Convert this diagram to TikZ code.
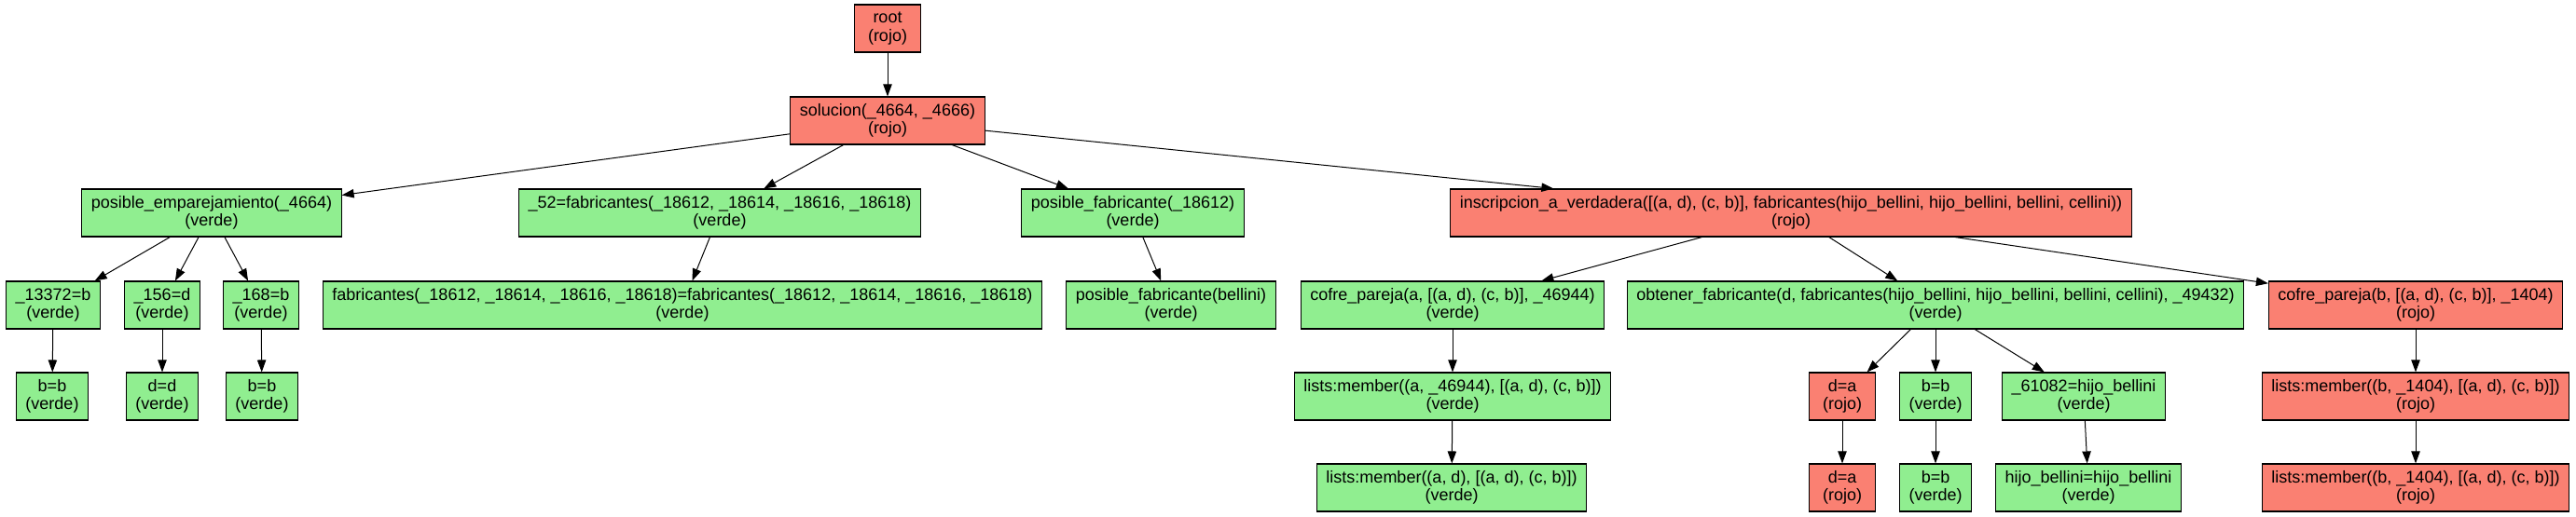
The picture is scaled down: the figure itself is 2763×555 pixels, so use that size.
\documentclass[tikz,border=0pt]{standalone}
\usepackage{fontspec}
\setmainfont{Liberation Sans}
\usepackage{tikz}
\usetikzlibrary{arrows.meta}
\definecolor{rojoFill}{RGB}{250,128,114}
\definecolor{verdeFill}{RGB}{144,238,144}

\begin{document}
\begin{tikzpicture}[
        x=0.75pt, y=-0.75pt,
        box/.style={draw=black, line width=0.8pt, rectangle,
          font=\fontsize{13.5}{14.6}\selectfont, inner xsep=7.5pt, inner ysep=2pt,
          minimum width=53.25pt, minimum height=38.25pt, align=center},
        rojo/.style={box, fill=rojoFill},
        verde/.style={box, fill=verdeFill},
        >={Triangle[length=9.75pt,width=7pt]},
        every path/.append style={line width=0.75pt}
      ]
        \useasboundingbox (0,0) rectangle (2763,555);
        % nivel 1 y 2
        \node[rojo] (root) at (952,30.5) {root\\(rojo)};
        \node[rojo] (sol) at (952,129.5) {solucion(\_4664, \_4666)\\(rojo)};
        % nivel 3
        \node[verde] (posemp) at (227,228.5) {posible\_emparejamiento(\_4664)\\(verde)};
        \node[verde] (fab52) at (772,228.5) {\_52=fabricantes(\_18612, \_18614, \_18616, \_18618)\\(verde)};
        \node[verde] (posfab) at (1215,228.5) {posible\_fabricante(\_18612)\\(verde)};
        \node[rojo] (inscr) at (1921,228.5) {inscripcion\_a\_verdadera([(a, d), (c, b)], fabricantes(hijo\_bellini, hijo\_bellini, bellini, cellini))\\(rojo)};
        % nivel 4
        \node[verde] (eqa) at (57,327.5) {\_13372=b\\(verde)};
        \node[verde] (eqb) at (174,327.5) {\_156=d\\(verde)};
        \node[verde] (eqc) at (280,327.5) {\_168=b\\(verde)};
        \node[verde] (fabeq) at (732,327.5) {fabricantes(\_18612, \_18614, \_18616, \_18618)=fabricantes(\_18612, \_18614, \_18616, \_18618)\\(verde)};
        \node[verde] (posfabb) at (1256,327.5) {posible\_fabricante(bellini)\\(verde)};
        \node[verde] (cofrea) at (1558,327.5) {cofre\_pareja(a, [(a, d), (c, b)], \_46944)\\(verde)};
        \node[verde] (obtfab) at (2076,327.5) {obtener\_fabricante(d, fabricantes(hijo\_bellini, hijo\_bellini, bellini, cellini), \_49432)\\(verde)};
        \node[rojo] (cofreb) at (2591,327.5) {cofre\_pareja(b, [(a, d), (c, b)], \_1404)\\(rojo)};
        % nivel 5
        \node[verde] (bba) at (56,425.5) {b=b\\(verde)};
        \node[verde] (dda) at (174,425.5) {d=d\\(verde)};
        \node[verde] (bbb) at (281,425.5) {b=b\\(verde)};
        \node[verde] (membera) at (1558,425.5) {lists:member((a, \_46944), [(a, d), (c, b)])\\(verde)};
        \node[rojo] (dab) at (1976,425.5) {d=a\\(rojo)};
        \node[verde] (bbc) at (2076,425.5) {b=b\\(verde)};
        \node[verde] (hijoa) at (2235,425.5) {\_61082=hijo\_bellini\\(verde)};
        \node[rojo] (memberb) at (2591,425.5) {lists:member((b, \_1404), [(a, d), (c, b)])\\(rojo)};
        % nivel 6
        \node[verde] (memberc) at (1557,523.5) {lists:member((a, d), [(a, d), (c, b)])\\(verde)};
        \node[rojo] (dac) at (1976,523.5) {d=a\\(rojo)};
        \node[verde] (bbd) at (2076,523.5) {b=b\\(verde)};
        \node[verde] (hijob) at (2240,523.5) {hijo\_bellini=hijo\_bellini\\(verde)};
        \node[rojo] (memberd) at (2591,523.5) {lists:member((b, \_1404), [(a, d), (c, b)])\\(rojo)};
        % aristas
        \draw[->] (root) -- (sol);
        \draw[->] (sol) -- (posemp);
        \draw[->] (sol) -- (fab52);
        \draw[->] (sol) -- (posfab);
        \draw[->] (sol) -- (inscr);
        \draw[->] (posemp) -- (eqa);
        \draw[->] (posemp) -- (eqb);
        \draw[->] (posemp) -- (eqc);
        \draw[->] (fab52) -- (fabeq);
        \draw[->] (posfab) -- (posfabb);
        \draw[->] (inscr) -- (cofrea);
        \draw[->] (inscr) -- (obtfab);
        \draw[->] (inscr) -- (cofreb);
        \draw[->] (eqa) -- (bba);
        \draw[->] (eqb) -- (dda);
        \draw[->] (eqc) -- (bbb);
        \draw[->] (cofrea) -- (membera);
        \draw[->] (obtfab) -- (dab);
        \draw[->] (obtfab) -- (bbc);
        \draw[->] (obtfab) -- (hijoa);
        \draw[->] (cofreb) -- (memberb);
        \draw[->] (membera) -- (memberc);
        \draw[->] (dab) -- (dac);
        \draw[->] (bbc) -- (bbd);
        \draw[->] (hijoa) -- (hijob);
        \draw[->] (memberb) -- (memberd);
      \end{tikzpicture}
\end{document}
